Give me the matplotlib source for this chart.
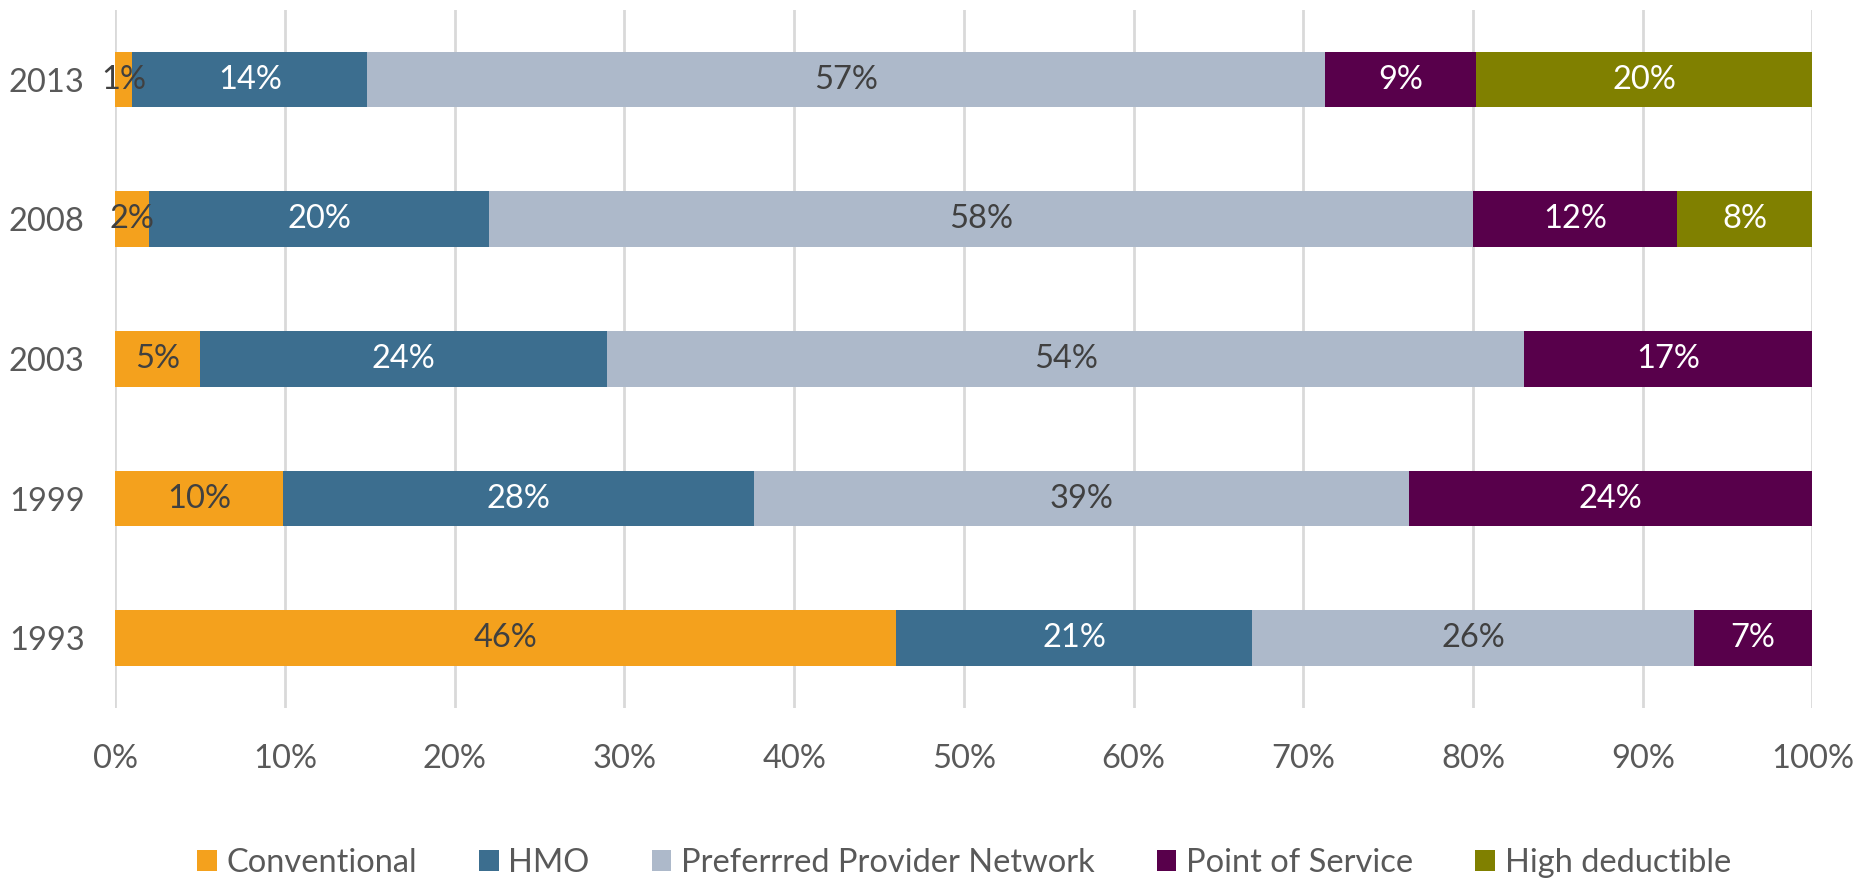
import matplotlib.pyplot as plt
import numpy as np

plt.rcParams['font.family'] = ['Lato', 'DejaVu Sans']

years = ["1993", "1999", "2003", "2008", "2013"]
plans = ["Conventional", "HMO", "Preferrred Provider Network", "Point of Service", "High deductible"]
conventional = [46, 10, 5, 2, 1]
hmo = [21, 28, 24, 20, 14]
ppo = [26, 39, 54, 58, 57]
pos = [7, 24, 17, 12, 9]
hdhp = [0, 0, 0, 8, 20]

colors = ["#F4A11D", "#3C6E8F", "#ADB9CA", "#58004B", "#808000"]
label_colors = ["#404040", "white", "#404040", "white", "white"]

series = np.array([conventional, hmo, ppo, pos, hdhp], dtype=float)
shares = series / series.sum(axis=0)

fig = plt.figure(figsize=(18.66, 8.85), dpi=100)
ax = fig.add_axes([0.0618, 0.2, 0.9095, 0.789])

fs = 23.5
y = np.arange(len(years))
left = np.zeros(len(years))
for i, name in enumerate(plans):
    ax.barh(y, shares[i], left=left, height=0.4, color=colors[i], label=name, zorder=3)
    for j in range(len(years)):
        if series[i, j] > 0:
            ax.text(left[j] + shares[i, j] / 2, y[j], f"{int(series[i, j])}%",
                    ha="center", va="center", fontsize=fs, color=label_colors[i], zorder=4)
    left += shares[i]

ax.set_xlim(0, 1)
ax.set_ylim(-0.5, 4.5)
ax.set_yticks(y)
ax.set_yticklabels(years)
ax.set_xticks(np.linspace(0, 1, 11))
ax.set_xticklabels([f"{p}%" for p in range(0, 101, 10)])
ax.tick_params(length=0, labelsize=fs, colors="#595959")
ax.tick_params(axis="x", pad=26)
ax.tick_params(axis="y", pad=22)
ax.grid(axis="x", color="#D9D9D9", lw=2, zorder=0)
for s in ax.spines.values():
    s.set_visible(False)

ax.legend(loc="center", bbox_to_anchor=(0.5, -0.222), ncol=5, frameon=False,
          fontsize=fs, labelcolor="#595959", handlelength=0.6, handleheight=0.6,
          handletextpad=0.3, columnspacing=1.9)

fig.savefig("out.png", dpi=100)
